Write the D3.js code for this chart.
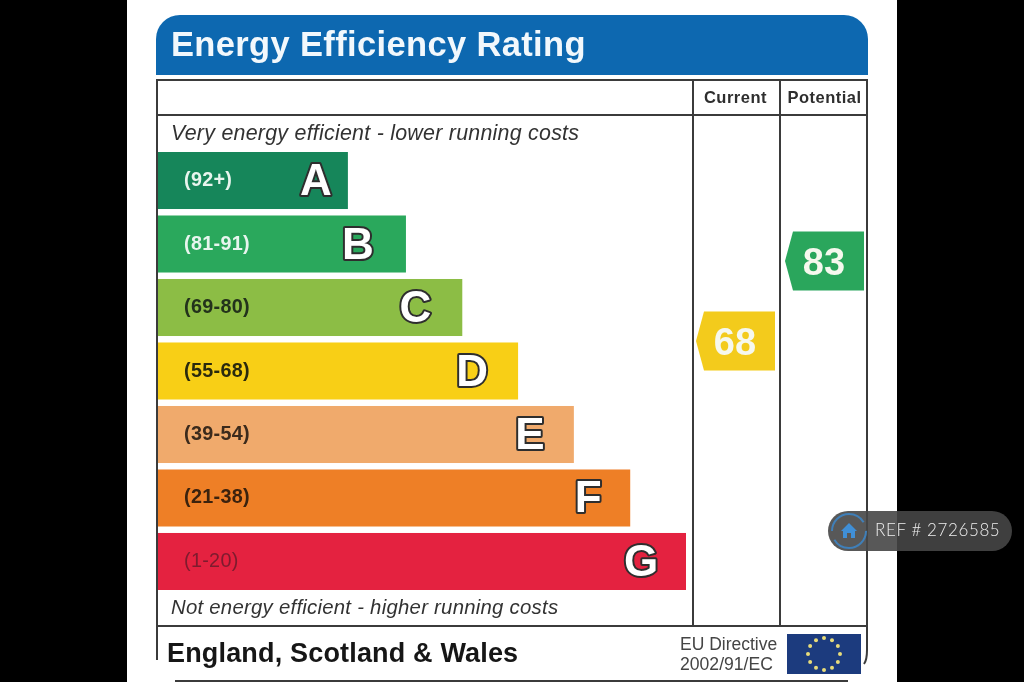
<!DOCTYPE html>
<html>
<head>
<meta charset="utf-8">
<script src="https://cdn.jsdelivr.net/npm/d3@7"></script>
<style>
    html, body { margin: 0; padding: 0; background: #000; overflow: hidden; }
    svg { display: block; }
    text { font-family: "Liberation Sans", Arial, sans-serif; }
</style>
</head>
<body>
<div id="chart"></div>
<script>
// bands of the rating, top to bottom
var letters = ["A", "B", "C", "D", "E", "F", "G"];
var ranges = ["(92+)", "(81-91)", "(69-80)", "(55-68)", "(39-54)", "(21-38)", "(1-20)"];
var barLengths = [3.37, 4.40, 5.40, 6.39, 7.38, 8.38, 9.37];

// the two pointers
var columnNames = ["Current", "Potential"];
var ratings = [68, 83];

var svg = d3.select("#chart")
    .append("svg")
    .attr("width", 1024)
    .attr("height", 682);

var defs = svg.append("defs");
defs.append("filter").attr("id", "soft")
    .append("feGaussianBlur").attr("stdDeviation", 0.45);

// page behind the label
svg.append("rect").attr("width", 1024).attr("height", 682).attr("fill", "#000");
svg.append("rect")
    .attr("x", 127).attr("y", 0)
    .attr("width", 770).attr("height", 682)
    .attr("fill", "#fff");

var label = svg.append("g").attr("filter", "url(#soft)");

// blue title band with rounded top corners
label.append("path")
    .attr("d", "M156,75 V39 A24,24 0 0 1 180,15 H844 A24,24 0 0 1 868,39 V75 Z")
    .attr("fill", "#0d68b0");
label.append("text")
    .attr("x", 171).attr("y", 56)
    .attr("font-size", 34.5)
    .attr("font-weight", "bold")
    .attr("letter-spacing", 0.35)
    .attr("fill", "#f2f8fc")
    .text("Energy Efficiency Rating");

// scales
var x = d3.scaleLinear()
    .domain([0, 9.37])
    .range([158, 686]);

var y = d3.scaleBand()
    .domain(letters)
    .range([152, 590])
    .paddingInner(0.102);

var ratingY = d3.scaleLinear()
    .domain([68, 83])
    .range([341, 261]);

var column = d3.scaleOrdinal()
    .domain(columnNames)
    .range([736, 825]);

var barColor = d3.scaleOrdinal()
    .domain(letters)
    .range(["#17865a", "#2aa85c", "#8cbd45", "#f8cf17", "#f0aa6c", "#ee7f27", "#e4213f"]);

var rangeColor = d3.scaleOrdinal()
    .domain(letters)
    .range(["#e8f5ee", "#e8f5ee", "#23301a", "#2c2a10", "#3a2a1c", "#3a2210", "#7d1c2e"]);

// how far the letter sits in from the end of its bar
var letterInset = d3.scaleOrdinal()
    .domain(letters)
    .range([32, 48, 47, 46, 44, 42, 45]);

var ratingColor = d3.scaleOrdinal()
    .domain(columnNames)
    .range(["#f3cb1d", "#2aa65c"]);

// table lines
var lines = label.append("g")
    .attr("stroke", "#3a3a3a")
    .attr("stroke-width", 2)
    .attr("fill", "none");
lines.append("path").attr("d", "M157,660 V80 H867 V650 Q867,660 864,664");
lines.append("path").attr("d", "M157,115 H867 M693,80 V626 M780,80 V626 M157,626 H867");
lines.append("path").attr("d", "M175,681 H848");

// column headings
label.selectAll(".head")
    .data(columnNames)
    .enter().append("text")
    .attr("class", "head")
    .attr("x", function (d) { return column(d) - 0.5; })
    .attr("y", 103)
    .attr("text-anchor", "middle")
    .attr("font-size", 16.5)
    .attr("font-weight", "bold")
    .attr("letter-spacing", 0.5)
    .attr("fill", "#2f2f2f")
    .text(function (d) { return d; });

// captions
label.append("text")
    .attr("x", 171).attr("y", 140)
    .attr("font-size", 21.4)
    .attr("font-style", "italic")
    .attr("letter-spacing", 0.25)
    .attr("fill", "#333")
    .text("Very energy efficient - lower running costs");
label.append("text")
    .attr("x", 171).attr("y", 614)
    .attr("font-size", 20.35)
    .attr("font-style", "italic")
    .attr("letter-spacing", 0.25)
    .attr("fill", "#333")
    .text("Not energy efficient - higher running costs");

// the bars
label.selectAll(".bar")
    .data(letters)
    .enter().append("rect")
    .attr("class", "bar")
    .attr("x", x(0))
    .attr("y", function (d) { return y(d); })
    .attr("width", function (d, i) { return x(barLengths[i]) - x(0); })
    .attr("height", y.bandwidth())
    .attr("fill", function (d) { return barColor(d); });

label.selectAll(".range")
    .data(ranges)
    .enter().append("text")
    .attr("class", "range")
    .attr("x", 184)
    .attr("y", function (d, i) { return y(letters[i]) + y.bandwidth() / 2 + 5.5; })
    .attr("font-size", 19.8)
    .attr("font-weight", function (d, i) { return i == 6 ? "normal" : "bold"; })
    .attr("letter-spacing", 0.3)
    .attr("fill", function (d, i) { return rangeColor(letters[i]); })
    .text(function (d) { return d; });

label.selectAll(".letter")
    .data(letters)
    .enter().append("text")
    .attr("class", "letter")
    .attr("x", function (d, i) { return x(barLengths[i]) - letterInset(d); })
    .attr("y", function (d) { return y(d) + y.bandwidth() / 2 + 14.5; })
    .attr("text-anchor", "middle")
    .attr("font-size", 44)
    .attr("font-weight", "bold")
    .attr("fill", "#fff")
    .attr("stroke", "#2e2e2e")
    .attr("stroke-width", 4)
    .attr("stroke-linejoin", "round")
    .attr("paint-order", "stroke")
    .text(function (d) { return d; });

// rating pointers
var pointers = label.selectAll(".pointer")
    .data(columnNames)
    .enter().append("g")
    .attr("class", "pointer")
    .attr("transform", function (d, i) {
        return "translate(" + column(d) + "," + ratingY(ratings[i]) + ")";
    });

pointers.append("path")
    .attr("d", "M-40,0 L-32,-29.5 H39 V29.5 H-32 Z")
    .attr("fill", function (d) { return ratingColor(d); });

pointers.append("text")
    .attr("x", -1)
    .attr("y", 14)
    .attr("text-anchor", "middle")
    .attr("font-size", 38)
    .attr("font-weight", "bold")
    .attr("fill", "#f6f8ee")
    .text(function (d, i) { return ratings[i]; });

// footer
label.append("text")
    .attr("x", 167).attr("y", 662)
    .attr("font-size", 27)
    .attr("font-weight", "bold")
    .attr("letter-spacing", 0.17)
    .attr("fill", "#141414")
    .text("England, Scotland & Wales");
label.append("text")
    .attr("x", 680).attr("y", 650)
    .attr("font-size", 17.5)
    .attr("fill", "#444")
    .text("EU Directive");
label.append("text")
    .attr("x", 680).attr("y", 670)
    .attr("font-size", 17.6)
    .attr("fill", "#444")
    .text("2002/91/EC");

// EU flag
label.append("rect")
    .attr("x", 787).attr("y", 634)
    .attr("width", 74).attr("height", 40)
    .attr("fill", "#1c3a7e");
label.selectAll(".star")
    .data(d3.range(12))
    .enter().append("circle")
    .attr("class", "star")
    .attr("cx", function (d) { return 824 + 16 * Math.sin(d * Math.PI / 6); })
    .attr("cy", function (d) { return 654 - 16 * Math.cos(d * Math.PI / 6); })
    .attr("r", 2)
    .attr("fill", "#e8dc7a");

// reference badge sits over the label and the black edge
var badge = svg.append("g").attr("filter", "url(#soft)");
badge.append("rect")
    .attr("x", 828).attr("y", 511)
    .attr("width", 184).attr("height", 40)
    .attr("rx", 20)
    .attr("fill", "#464646")
    .attr("fill-opacity", 0.9);
badge.append("circle")
    .attr("cx", 849).attr("cy", 531).attr("r", 17)
    .attr("fill", "none")
    .attr("stroke", "#3f7fb8")
    .attr("stroke-width", 2)
    .attr("stroke-dasharray", "44 9");
badge.append("path")
    .attr("d", "M849,523 L857,531 H855 V538 H851 V533 H847 V538 H843 V531 H841 Z")
    .attr("fill", "#3f8fd6");
badge.append("text")
    .attr("x", 875).attr("y", 536)
    .attr("font-size", 17)
    .attr("letter-spacing", 0.6)
    .attr("font-weight", 300)
    .attr("fill", "#eee")
    .style("font-family", "Lato, 'Open Sans', sans-serif")
    .text("REF # 2726585");
</script>
</body>
</html>
